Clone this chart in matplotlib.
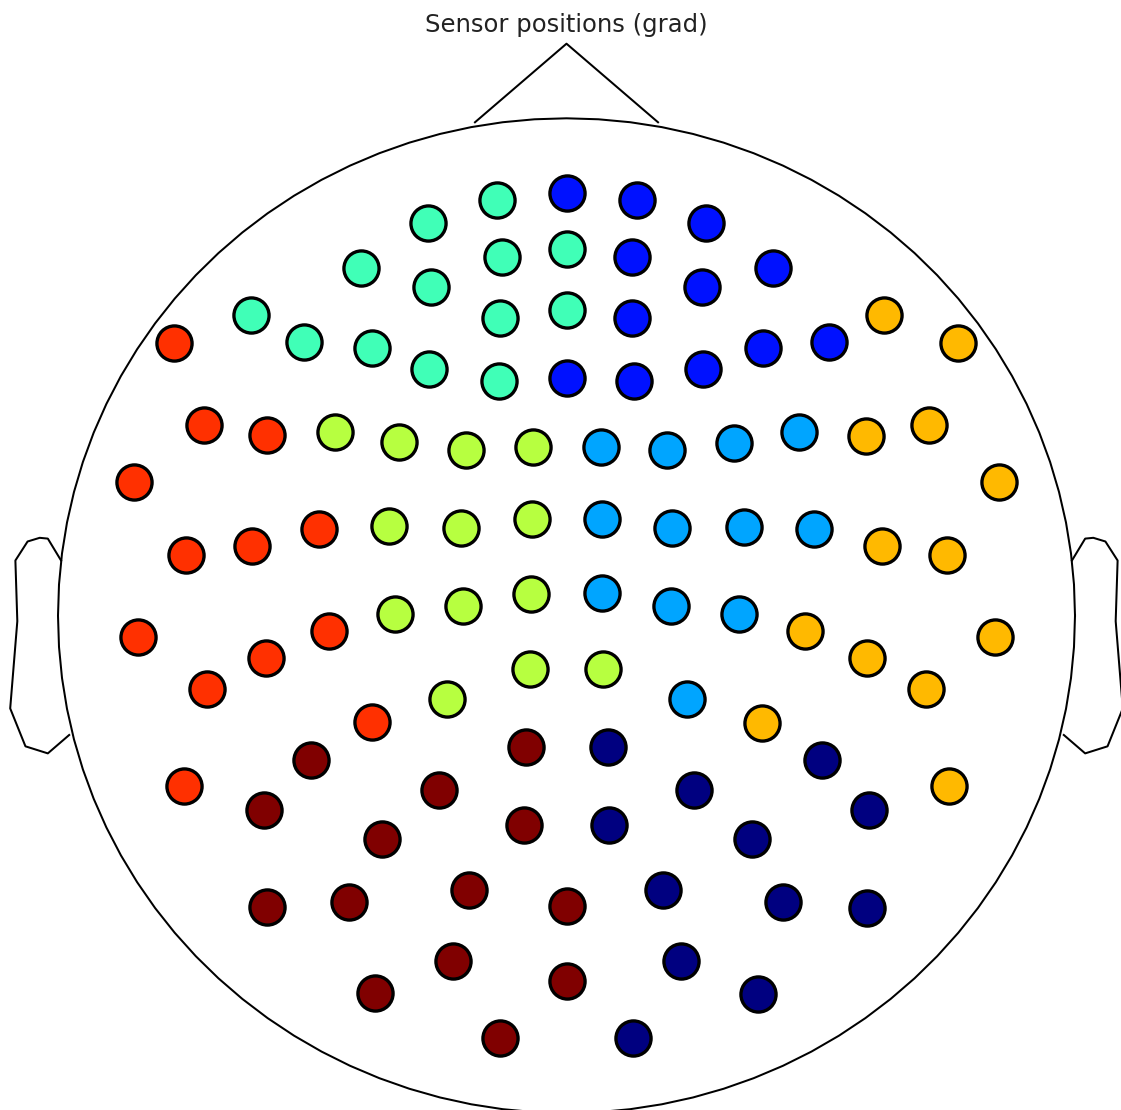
import numpy as np
import matplotlib
matplotlib.use("Agg")
import matplotlib.pyplot as plt

# Sensor groups (selection) and jet colour levels
groups = ["Right-occipital", "Right-frontal", "Right-parietal", "Left-frontal",
          "Left-parietal", "Right-temporal", "Left-temporal", "Left-occipital"]

# positions in head units (head radius = 0.5)
lf_x = [-0.1365, -0.0686, -0.2024, -0.0637, 0.0002, -0.1332, -0.3105, -0.2581, -0.1915, -0.0654, 0.0002, -0.1352, -0.0664]
lf_y = [0.3944, 0.4179, 0.3498, 0.3609, 0.3683, 0.3307, 0.3023, 0.2754, 0.2688, 0.2990, 0.3073, 0.2477, 0.2359]

rf_x = [0.0002, 0.0690, 0.1372, 0.0641, 0.2033, 0.1329, 0.0647, 0.0002, 0.0667, 0.1345, 0.1929, 0.2584]
rf_y = [0.4252, 0.4179, 0.3944, 0.3609, 0.3498, 0.3307, 0.2996, 0.2386, 0.2362, 0.2477, 0.2688, 0.2754]

lt_x = [-0.3860, -0.3564, -0.2948, -0.4250, -0.3744, -0.3089, -0.2434, -0.4216, -0.3532, -0.2958, -0.2338, -0.1910, -0.3761]
lt_y = [0.2738, 0.1917, 0.1816, 0.1347, 0.0610, 0.0704, 0.0869, -0.0217, -0.0737, -0.0428, -0.0151, -0.1072, -0.1709]

rt_x = [0.3122, 0.3853, 0.2945, 0.3564, 0.4253, 0.3099, 0.3744, 0.2345, 0.2958, 0.3535, 0.4213, 0.1919, 0.3764]
rt_y = [0.3023, 0.2744, 0.1809, 0.1917, 0.1347, 0.0704, 0.0610, -0.0151, -0.0422, -0.0737, -0.0217, -0.1082, -0.1709]

lp_x = [-0.2276, -0.1647, -0.0988, -0.0332, -0.1745, -0.1037, -0.0336, -0.1686, -0.1021, -0.0349, -0.0359, 0.0362, -0.1178]
lp_y = [0.1850, 0.1749, 0.1666, 0.1696, 0.0902, 0.0879, 0.0972, 0.0014, 0.0098, 0.0218, -0.0536, -0.0536, -0.0837]

rp_x = [0.0339, 0.0991, 0.1650, 0.2289, 0.0346, 0.1040, 0.1748, 0.2437, 0.0352, 0.1028, 0.1696, 0.1182]
rp_y = [0.1696, 0.1666, 0.1736, 0.1850, 0.0972, 0.0879, 0.0895, 0.0869, 0.0225, 0.0101, 0.0017, -0.0837]

lo_x = [-0.2512, -0.2974, -0.1817, -0.2948, -0.2136, -0.1883, -0.0401, -0.1251, -0.0415, -0.0956, 0.0002, -0.1119, 0.0002, -0.0654]
lo_y = [-0.1451, -0.1953, -0.2245, -0.2931, -0.2881, -0.3796, -0.1323, -0.1752, -0.2104, -0.2757, -0.2918, -0.3468, -0.3669, -0.4248]

ro_x = [0.0411, 0.1257, 0.0421, 0.0952, 0.1126, 0.0657, 0.2515, 0.2974, 0.1821, 0.2132, 0.2952, 0.1886]
ro_y = [-0.1323, -0.1752, -0.2104, -0.2757, -0.3468, -0.4248, -0.1451, -0.1953, -0.2245, -0.2881, -0.2935, -0.3803]

group_pos = {
    "Right-occipital": (ro_x, ro_y),
    "Right-frontal": (rf_x, rf_y),
    "Right-parietal": (rp_x, rp_y),
    "Left-frontal": (lf_x, lf_y),
    "Left-parietal": (lp_x, lp_y),
    "Right-temporal": (rt_x, rt_y),
    "Left-temporal": (lt_x, lt_y),
    "Left-occipital": (lo_x, lo_y),
}

title = "Sensor positions (grad)"

# head outline (radius 0.5)
radius = 0.5
ear_x = np.array([.497, .510, .518, .5299, .5419, .54, .547, .532, .510, .489])
ear_y = np.array([.0555, .0775, .0783, .0746, .0555, -.0055, -.0932, -.1313, -.1384, -.1199])

fig = plt.figure(figsize=(11.21, 11.10), dpi=100)
ax = fig.add_axes([0, 0, 1, 1])
ax.set_xlim(-0.55703, 0.54523)
ax.set_ylim(-0.49688, 0.61892)
ax.axis("off")

l = np.linspace(0, 2 * np.pi, 101)
lw = 1.45
ax.plot(np.cos(l) * radius, np.sin(l) * radius, color="k", lw=lw, zorder=1)
ax.plot(np.array([0.18, 0, -0.18]) * radius,
        np.array([radius - .004, radius * 1.15, radius - .004]), color="k", lw=lw, zorder=1)
ax.plot(ear_x, ear_y, color="k", lw=lw, zorder=1)
ax.plot(-ear_x, ear_y, color="k", lw=lw, zorder=1)

cmap = plt.get_cmap("jet")
levels = np.linspace(0, 1, len(groups))
for g, lev in zip(groups, levels):
    gx, gy = group_pos[g]
    ax.scatter(gx, gy, s=25.3 ** 2, c=[cmap(lev)], edgecolors="k",
               linewidths=2.4, zorder=3)

fig.text(566.5 / 1121, 1 - 32.3 / 1110, title, ha="center", va="baseline",
         fontsize=17.5, color="#222222")

fig.savefig("out.png", dpi=100)
